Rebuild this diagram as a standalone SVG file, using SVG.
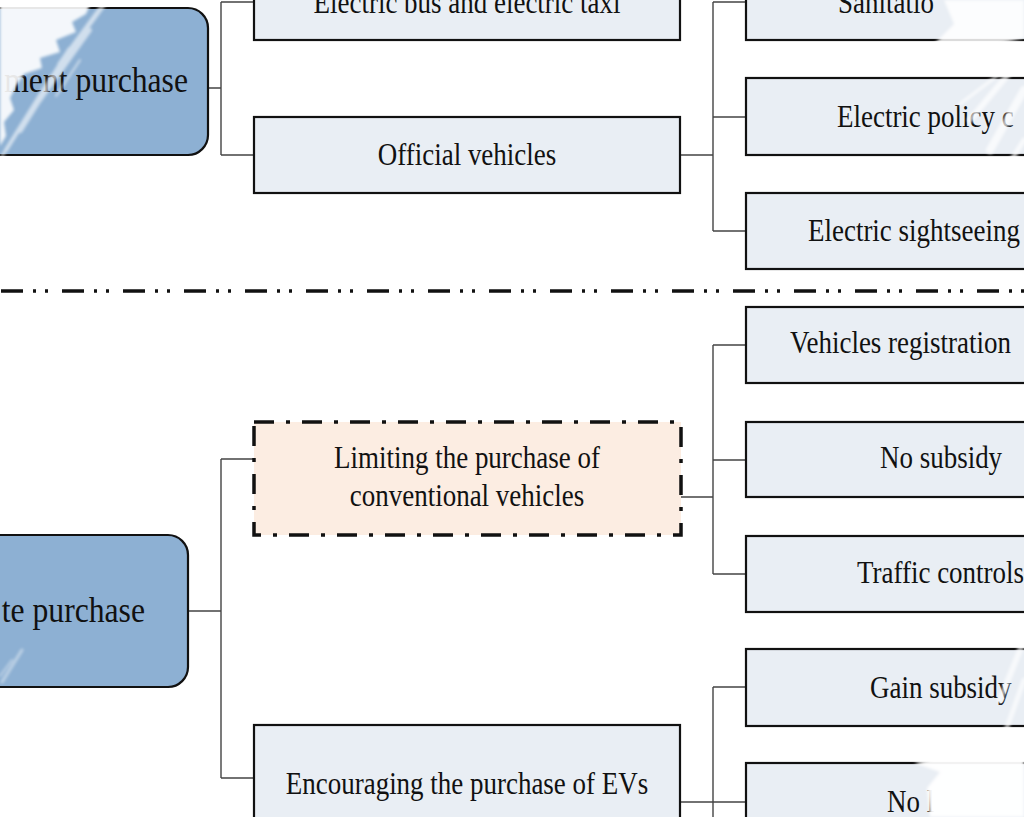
<svg xmlns="http://www.w3.org/2000/svg" width="1024" height="817" viewBox="0 0 1024 817">
  <style>
    .root { fill: #8DB0D3; stroke: #111; stroke-width: 2.2; }
    .box { fill: #E9EEF4; stroke: #111; stroke-width: 2.2; }
    .limit { fill: #FCEDE2; stroke: #111; stroke-width: 3.5; stroke-dasharray: 20 12 4 12; }
    .sep { fill: none; stroke: #111; stroke-width: 3.5; stroke-dasharray: 22 10 3 9 3 14; stroke-dashoffset: -1; }
    .wire { fill: none; stroke: #444; stroke-width: 1.4; }
    .t { font-family: "Liberation Serif", "Times New Roman", serif; font-size: 31px; fill: #111; }
    .big { font-family: "Liberation Serif", "Times New Roman", serif; font-size: 36px; fill: #111; }
    .wipe { fill: #fff; }
    .streak { fill: none; stroke: #fff; stroke-linecap: round; }
  </style>
  <defs>
    <filter id="soft" x="-20%" y="-20%" width="140%" height="140%">
      <feGaussianBlur stdDeviation="1.8"/>
    </filter>
  </defs>

  <rect width="1024" height="817" fill="#fff"/>

  <!-- connectors -->
  <g id="connectors" class="wire">
    <!-- upper root to its two children -->
    <path d="M208 88 H221 M221 2 V155 M221 2 H254 M221 155 H254"/>
    <!-- official vehicles to its three children -->
    <path d="M680 155 H713 M713 2 V231 M713 2 H746 M713 117 H746 M713 231 H746"/>
    <!-- lower root to its two children -->
    <path d="M188 611 H221 M221 459 V778 M221 459 H254 M221 778 H254"/>
    <!-- limiting branch -->
    <path d="M681 497 H713 M713 345 V574 M713 345 H746 M713 460 H746 M713 574 H746"/>
    <!-- encouraging branch -->
    <path d="M680 802 H713 M713 687 V817 M713 687 H746 M713 802 H746"/>
  </g>

  <!-- separator between the two halves -->
  <line class="sep" x1="0" y1="291" x2="1024" y2="291"/>

  <!-- upper half -->
  <g id="node-gov">
    <rect class="root" x="-40" y="8" width="248" height="147" rx="20"/>
    <text class="big" text-anchor="end" transform="translate(188 92) scale(0.88 1)">ment purchase</text>
  </g>
  <g id="node-bus">
    <rect class="box" x="254" y="-36" width="426" height="76"/>
    <text class="t" text-anchor="middle" transform="translate(467 13) scale(0.87 1)">Electric bus and electric taxi</text>
  </g>
  <g id="node-official">
    <rect class="box" x="254" y="117" width="426" height="76"/>
    <text class="t" text-anchor="middle" transform="translate(467 165) scale(0.87 1)">Official vehicles</text>
  </g>
  <g id="node-sanitation">
    <rect class="box" x="746" y="-36" width="320" height="76"/>
    <text class="t" transform="translate(838 13) scale(0.87 1)">Sanitatio</text>
  </g>
  <g id="node-police">
    <rect class="box" x="746" y="78" width="320" height="77"/>
    <text class="t" transform="translate(837 127) scale(0.87 1)">Electric policy c</text>
  </g>
  <g id="node-sightseeing">
    <rect class="box" x="746" y="193" width="320" height="76"/>
    <text class="t" transform="translate(808 241) scale(0.87 1)">Electric sightseeing</text>
  </g>

  <!-- lower half -->
  <g id="node-private">
    <rect class="root" x="-40" y="535" width="228" height="152" rx="20"/>
    <text class="big" text-anchor="end" transform="translate(145 622) scale(0.88 1)">te purchase</text>
  </g>
  <g id="node-limiting">
    <rect class="limit" x="254" y="422" width="427" height="113"/>
    <text class="t" text-anchor="middle" transform="translate(467 468) scale(0.87 1)">Limiting the purchase of</text>
    <text class="t" text-anchor="middle" transform="translate(467 506) scale(0.87 1)">conventional vehicles</text>
  </g>
  <g id="node-encouraging">
    <rect class="box" x="254" y="725" width="426" height="120"/>
    <text class="t" text-anchor="middle" transform="translate(467 794) scale(0.87 1)">Encouraging the purchase of EVs</text>
  </g>
  <g id="node-registration">
    <rect class="box" x="746" y="307" width="320" height="76"/>
    <text class="t" transform="translate(790 353) scale(0.87 1)">Vehicles registration</text>
  </g>
  <g id="node-nosubsidy">
    <rect class="box" x="746" y="422" width="320" height="75"/>
    <text class="t" transform="translate(880 468) scale(0.87 1)">No subsidy</text>
  </g>
  <g id="node-traffic">
    <rect class="box" x="746" y="536" width="320" height="76"/>
    <text class="t" transform="translate(857 583) scale(0.87 1)">Traffic controls</text>
  </g>
  <g id="node-gain">
    <rect class="box" x="746" y="649" width="320" height="77"/>
    <text class="t" transform="translate(870 698) scale(0.87 1)">Gain subsidy</text>
  </g>
  <g id="node-nolimit">
    <rect class="box" x="746" y="763" width="320" height="80"/>
    <text class="t" transform="translate(887 812) scale(0.87 1)">No l</text>
  </g>

  <!-- dry-brush wipes along the edges -->
  <g id="brush" filter="url(#soft)">
    <!-- upper-left corner -->
    <polygon class="wipe" opacity="0.9" points="0,0 92,0 86,14 72,22 76,32 56,40 60,52 40,58 42,68 24,74 16,86 10,98 14,110 4,122 6,136 0,146"/>
    <g class="streak" opacity="0.6">
      <path d="M104 4 L60 64" stroke-width="5"/>
      <path d="M90 30 L40 100" stroke-width="4"/>
      <path d="M70 50 L20 130" stroke-width="6"/>
      <path d="M52 76 L6 150" stroke-width="4"/>
      <path d="M36 104 L2 156" stroke-width="3"/>
      <path d="M80 60 L56 96" stroke-width="2"/>
    </g>
    <!-- upper-right edge -->
    <polygon class="wipe" opacity="0.85" points="944,0 1024,0 1024,38 1000,44 974,58 934,44 954,24"/>
    <g class="streak" opacity="0.7">
      <path d="M1020 60 L970 120" stroke-width="6"/>
      <path d="M1024 90 L990 150" stroke-width="8"/>
      <path d="M1010 66 L960 104" stroke-width="3"/>
      <path d="M1024 140 L1004 172" stroke-width="5"/>
    </g>
    <!-- lower-right edge -->
    <g class="streak" opacity="0.65">
      <path d="M1024 640 L1000 700" stroke-width="6"/>
      <path d="M1024 680 L1006 730" stroke-width="5"/>
    </g>
    <polygon class="wipe" opacity="0.95" points="1024,745 1024,817 930,817 927,788 940,772 914,763 962,752 996,748"/>
    <!-- lower-left corner -->
    <g class="streak" opacity="0.45">
      <path d="M22 650 L2 682" stroke-width="3"/>
      <path d="M12 660 L0 676" stroke-width="2"/>
    </g>
  </g>
</svg>
